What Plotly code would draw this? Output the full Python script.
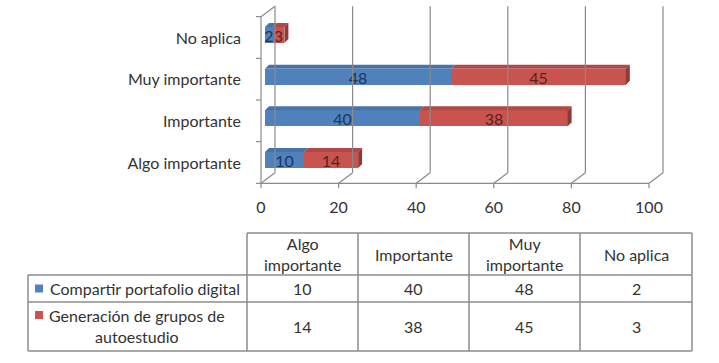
import plotly.graph_objects as go

# ---------------- data ----------------
categories = ["Algo importante", "Importante", "Muy importante", "No aplica"]
series_names = ["Compartir portafolio digital", "Generación de grupos de autoestudio"]
compartir = [10, 40, 48, 2]
generacion = [14, 38, 45, 3]
x_ticks = [0, 20, 40, 60, 80, 100]
table_headers = ["Algo<br>importante", "Importante", "Muy<br>importante", "No aplica"]
row_labels = ["Compartir portafolio digital", "Generación de grupos de<br>autoestudio"]

# ---------------- style / geometry ----------------
W, H = 719, 363
FONT = "Lato"
FS = 16
TXT = "#333333"
GRID = "#8a8a8a"
BLUE, BLUE_TOP, BLUE_SIDE = "#4F81BD", "#4773A8", "#385D8A"
RED, RED_TOP, RED_SIDE = "#C9544F", "#B04946", "#8E3A37"

X0PX, PPX = 265.0, 3.88          # pixel of value 0, px per unit (bar plane)
Y0PX, PPY = 160.0, 41.67         # pixel of first category centre, px per category
PL, PR, PT, PB = 254, 668, 3, 192  # plot area in pixels
BACK = (10, 8)                   # back wall offset (px right, px up)
FRONT = (-4, -2.5)               # front plane offset
DEPTH = (4, 4)                   # bar depth
BARW = 16 / PPY

xr = [(PL - X0PX) / PPX, (PR - X0PX) / PPX]
yr = [(Y0PX - PB) / PPY, (Y0PX - PT) / PPY]
ncat = len(categories)
idx = list(range(ncat))

fig = go.Figure()
fig.add_trace(go.Bar(
    y=idx, x=compartir, orientation="h", name=series_names[0], width=BARW,
    marker=dict(color=BLUE, line=dict(width=0)),
    text=compartir, textposition="inside", insidetextanchor="middle", textangle=0,
    textfont=dict(family=FONT, size=FS, color="#1f3559"),
))
fig.add_trace(go.Bar(
    y=idx, x=generacion, orientation="h", name=series_names[1], width=BARW,
    marker=dict(color=RED, line=dict(width=0)),
    text=generacion, textposition="inside", insidetextanchor="middle", textangle=0,
    textfont=dict(family=FONT, size=FS, color="#5c1f1d"),
))

shapes = []
# 3D faces of bars
dxu, dyu = DEPTH[0] / PPX, DEPTH[1] / PPY
for i in idx:
    a = compartir[i]
    b = compartir[i] + generacion[i]
    top, bot = i + BARW / 2, i - BARW / 2
    for x0, x1, col in [(0, a, BLUE_TOP), (a, b, RED_TOP)]:
        shapes.append(dict(type="path", xref="x", yref="y", layer="above",
                           path=f"M {x0},{top} L {x1},{top} L {x1+dxu},{top+dyu} L {x0+dxu},{top+dyu} Z",
                           fillcolor=col, line=dict(width=0)))
    shapes.append(dict(type="path", xref="x", yref="y", layer="above",
                       path=f"M {b},{bot} L {b},{top} L {b+dxu},{top+dyu} L {b+dxu},{bot+dyu} Z",
                       fillcolor=RED_SIDE, line=dict(width=0)))

wall_h = ncat * PPY
def pshape(xa, ya, path):
    return dict(type="path", xref="x", yref="y", xsizemode="pixel", ysizemode="pixel",
                xanchor=xa, yanchor=ya, path=path, layer="above",
                line=dict(color=GRID, width=1.2))

bx, by = BACK
fx, fy = FRONT
for v in x_ticks:
    shapes.append(pshape(v, -0.5, f"M {bx},{by} L {bx},{by + wall_h}"))
    shapes.append(pshape(v, -0.5, f"M {bx},{by} L {fx},{fy}"))
    shapes.append(pshape(v, -0.5, f"M {fx},{fy} L {fx},{fy - 5}"))
# front floor line
shapes.append(pshape(0, -0.5, f"M {fx},{fy} L {fx + (x_ticks[-1]-x_ticks[0]) * PPX},{fy}"))
# left wall
shapes.append(pshape(0, -0.5, f"M {fx},{fy} L {fx},{fy + wall_h}"))
shapes.append(pshape(0, -0.5, f"M {fx},{fy + wall_h} L {bx},{by + wall_h}"))
for k in range(ncat + 1):
    shapes.append(pshape(0, -0.5, f"M {fx},{fy + k*PPY} L {fx-5},{fy + k*PPY}"))

# ---------------- data table ----------------
def px(x):
    return x / W
def py(y):
    return 1 - y / H

col_x = [247, 358, 469, 580, 692]
row_y = [233, 275, 302, 351]
LBLX = 28
tline = dict(color="#8c8c8c", width=1.5)
def pline(x0, y0, x1, y1):
    shapes.append(dict(type="line", xref="paper", yref="paper",
                       x0=px(x0), y0=py(y0), x1=px(x1), y1=py(y1), line=tline))
pline(col_x[0], row_y[0], col_x[-1], row_y[0])
for yy in row_y[1:]:
    pline(LBLX, yy, col_x[-1], yy)
for xx in col_x:
    pline(xx, row_y[0], xx, row_y[-1])
pline(LBLX, row_y[1], LBLX, row_y[-1])

annotations = []
def ann(x, y, text, xanchor="center", align="center"):
    annotations.append(dict(x=px(x), y=py(y), xref="paper", yref="paper", text=text,
                            showarrow=False, xanchor=xanchor, yanchor="middle", align=align,
                            font=dict(family=FONT, size=FS, color=TXT)))

for j, h in enumerate(table_headers):
    ann((col_x[j] + col_x[j+1]) / 2, (row_y[0] + row_y[1]) / 2, h)
for r, vals in enumerate([compartir, generacion]):
    yc = (row_y[r+1] + row_y[r+2]) / 2
    for j, v in enumerate(vals):
        ann((col_x[j] + col_x[j+1]) / 2, yc, str(v))

# legend keys + row labels
key_cols = [BLUE, RED]
ann(48, (row_y[1] + row_y[2]) / 2, row_labels[0], xanchor="left", align="left")
ann(137, (row_y[2] + row_y[3]) / 2 - 1, row_labels[1])
key_y = [(row_y[1] + row_y[2]) / 2, row_y[2] + 13]
for c, ky in zip(key_cols, key_y):
    shapes.append(dict(type="rect", xref="paper", yref="paper",
                       x0=px(35), x1=px(43), y0=py(ky - 4), y1=py(ky + 4),
                       fillcolor=c, line=dict(width=0)))

fig.update_layout(
    width=W, height=H, margin=dict(l=0, r=0, t=0, b=0),
    paper_bgcolor="white", plot_bgcolor="white",
    barmode="stack", bargap=0, showlegend=False,
    uniformtext=dict(mode="show", minsize=FS),
    font=dict(family=FONT, size=FS, color=TXT),
    xaxis=dict(domain=[PL / W, PR / W], range=xr, tickvals=x_ticks, ticks="",
               showgrid=False, zeroline=False, showline=False,
               ticklabelshift=FRONT[0], ticklabelstandoff=4,
               tickfont=dict(family=FONT, size=FS, color=TXT)),
    yaxis=dict(domain=[1 - PB / H, 1 - PT / H], range=yr, tickvals=idx, ticktext=categories,
               ticks="", showgrid=False, zeroline=False, showline=False,
               ticklabelshift=3, ticklabelstandoff=12,
               tickfont=dict(family=FONT, size=FS, color=TXT)),
    shapes=shapes, annotations=annotations,
)

fig.write_html("out.html", config={"displayModeBar": False},
               post_script="document.body.style.margin='0px';")
